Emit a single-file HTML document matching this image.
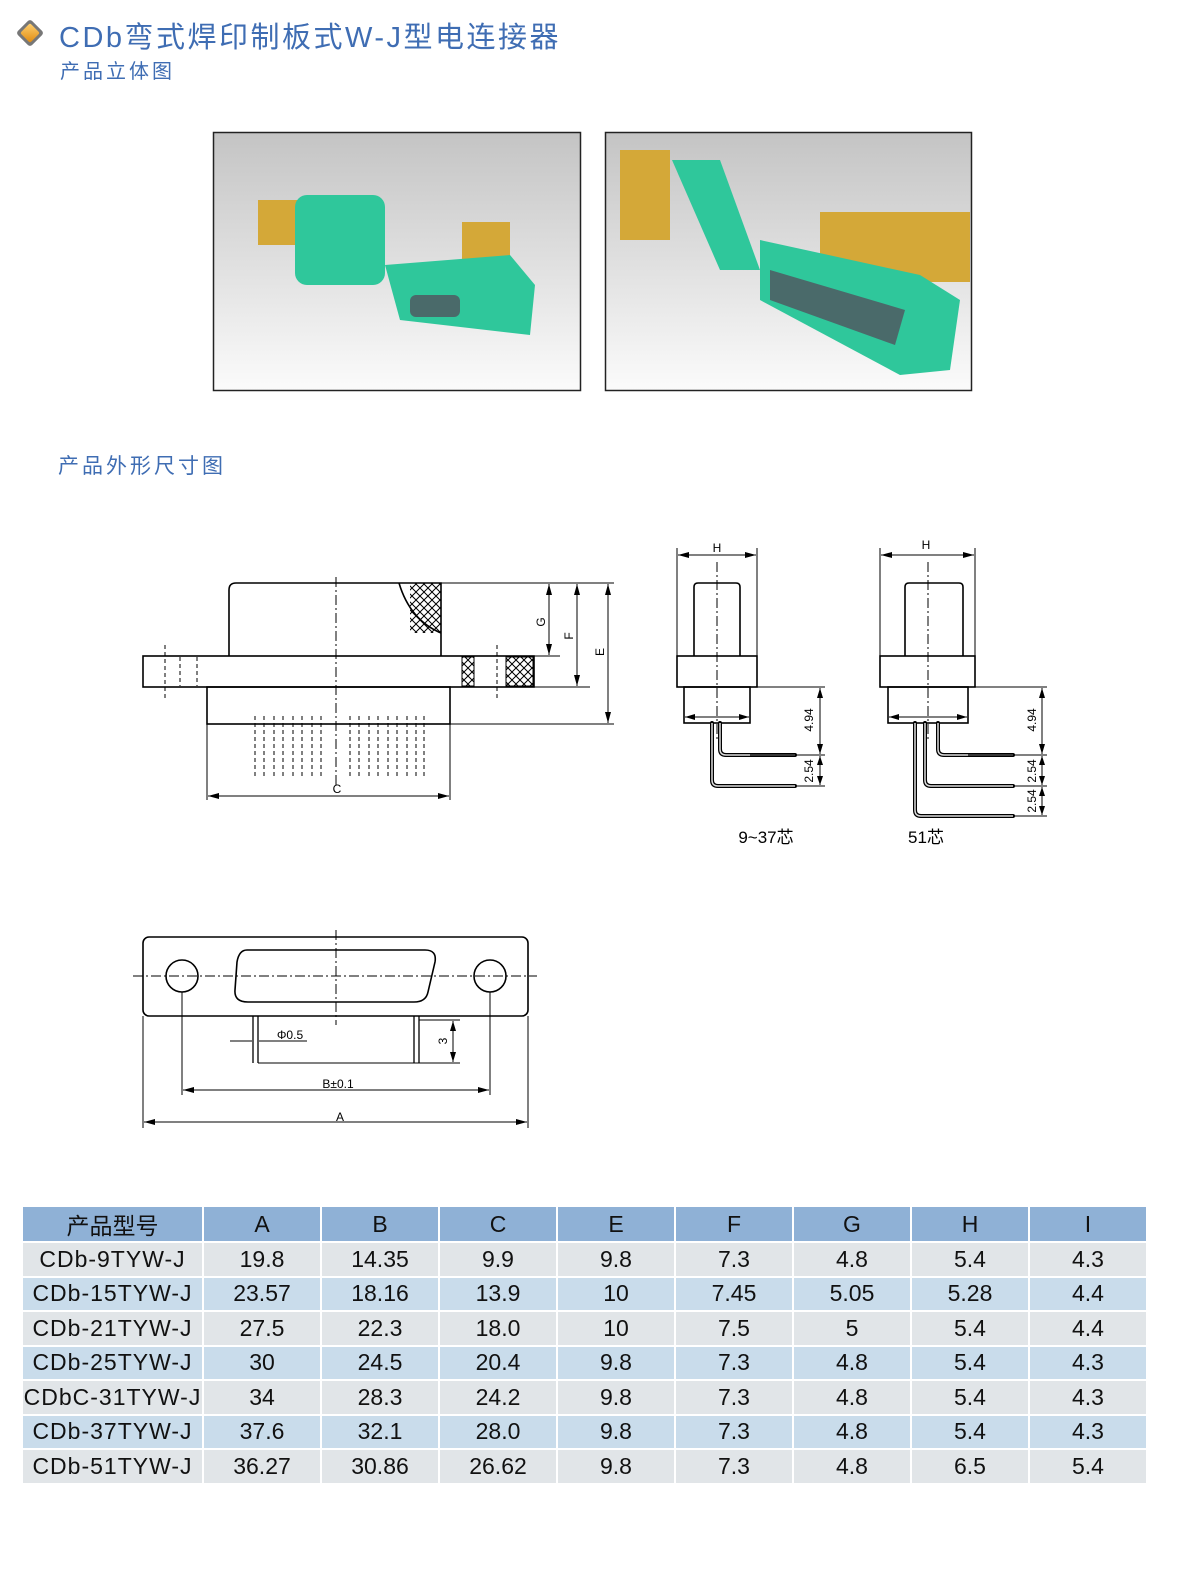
<!DOCTYPE html>
<html><head><meta charset="utf-8">
<style>
html,body{margin:0;padding:0;background:#fff;width:1200px;height:1586px;overflow:hidden;}
body{position:relative;font-family:"Liberation Sans","Noto Sans CJK SC",sans-serif;}
.t{position:absolute;color:#3f6db3;white-space:nowrap;}
table{position:absolute;left:21px;top:1205px;border-collapse:separate;border-spacing:2px 2px;table-layout:fixed;width:1127px;}
td{height:32.5px;padding:0;text-align:center;font-size:23px;color:#111;font-family:"Liberation Sans",sans-serif;overflow:hidden;white-space:nowrap;}
tr.h td{background:#8fb1d6;height:33px;}
tr.g td{background:#e1e5e8;}
tr.b td{background:#c9dceb;}
td.m{font-family:"Liberation Sans Narrow","Liberation Sans",sans-serif;letter-spacing:1px;}
</style></head><body>
<svg width="1200" height="1586" style="position:absolute;left:0;top:0;overflow:hidden">
<defs>
<linearGradient id="bg" x1="0" y1="0" x2="0" y2="1"><stop offset="0" stop-color="#c4c4c4"/><stop offset="1" stop-color="#fbfbfb"/></linearGradient>
<linearGradient id="ic" x1="0" y1="0" x2="1" y2="1"><stop offset="0" stop-color="#ffd070"/><stop offset="1" stop-color="#e08a10"/></linearGradient>
<pattern id="xh" width="8" height="8" patternUnits="userSpaceOnUse"><path d="M0 0L8 8M8 0L0 8" stroke="#000" stroke-width="1"/></pattern>
</defs>
<rect x="20" y="23" width="20" height="20" transform="rotate(45 30 33)" fill="#777" rx="3"/>
<rect x="23" y="26" width="14" height="14" transform="rotate(45 30 33)" fill="url(#ic)" rx="2"/>
<rect x="213.5" y="132.5" width="367" height="258" fill="url(#bg)" stroke="#222" stroke-width="1.5"/>
<rect x="605.5" y="132.5" width="366" height="258" fill="url(#bg)" stroke="#222" stroke-width="1.5"/>
<g fill="#d4a838"><rect x="258" y="200" width="40" height="45"/><rect x="462" y="222" width="48" height="40"/><rect x="620" y="150" width="50" height="90"/><rect x="820" y="212" width="150" height="70"/></g>
<g fill="#2fc79b"><rect x="295" y="195" width="90" height="90" rx="12"/><path d="M385 265L510 255L535 285L530 335L400 320Z"/><path d="M672 160L720 160L760 270L720 270Z"/><path d="M760 240L920 275L960 300L950 370L900 375L760 300Z"/></g>
<g fill="#4a6a6a"><rect x="410" y="295" width="50" height="22" rx="6"/><path d="M770 270L905 310L895 345L770 300Z"/></g>
<g stroke="#000" fill="none" stroke-width="1.6">
<path d="M229 656V590Q229 583 236 583H441V656"/>
<rect x="143" y="656" width="391" height="31"/>
<rect x="207" y="687" width="243" height="37"/>
<path d="M399 583Q410 620 441 633" />
<rect x="410" y="583" width="31" height="50" fill="url(#xh)" stroke="none"/>
<rect x="462" y="657" width="12" height="29" fill="url(#xh)" stroke-width="1"/>
<rect x="506" y="657" width="27" height="29" fill="url(#xh)" stroke-width="1"/>
</g>
<g stroke="#000" stroke-width="1" fill="none">
<path d="M336 577V785" stroke-dasharray="10 3 2 3"/>
<path d="M165 645V700M180 657V686M197 657V686M497 645V700" stroke-dasharray="4 3"/>
<path d="M255 716V776M264 716V776M274 716V776M283 716V776M293 716V776M302 716V776M312 716V776M321 716V776M350 716V776M359 716V776M369 716V776M378 716V776M388 716V776M397 716V776M407 716V776M416 716V776M424 716V776" stroke-dasharray="4 3"/>
<path d="M441 583H614M441 656H560M534 687H590M450 724H614M207 724V800M450 724V800"/>
<path d="M549 584V655M577 584V686M608 584V723M208 796H449"/>
</g>
<g font-size="12" font-family="Liberation Sans,sans-serif" fill="#000">
<text x="337" y="793" text-anchor="middle">C</text>
<text transform="translate(545 622) rotate(-90)" text-anchor="middle">G</text>
<text transform="translate(573 636) rotate(-90)" text-anchor="middle">F</text>
<text transform="translate(604 652) rotate(-90)" text-anchor="middle">E</text>
<text x="717" y="552" text-anchor="middle">H</text>
<text x="926" y="549" text-anchor="middle">H</text>
<text transform="translate(813 720) rotate(-90)" text-anchor="middle">4.94</text>
<text transform="translate(813 771) rotate(-90)" text-anchor="middle">2.54</text>
<text transform="translate(1036 720) rotate(-90)" text-anchor="middle">4.94</text>
<text transform="translate(1036 771) rotate(-90)" text-anchor="middle">2.54</text>
<text transform="translate(1036 801) rotate(-90)" text-anchor="middle">2.54</text>
<text x="290" y="1039" text-anchor="middle">Φ0.5</text>
<text transform="translate(447 1041) rotate(-90)" text-anchor="middle">3</text>
<text x="338" y="1088" text-anchor="middle">B±0.1</text>
<text x="340" y="1121" text-anchor="middle">A</text>
</g>
<g stroke="#000" fill="none" stroke-width="1.6">
<path d="M694 656V587Q694 583 698 583H736Q740 583 740 587V656"/>
<rect x="677" y="656" width="80" height="31"/><rect x="684" y="687" width="66" height="36"/>
<path d="M712 723V780Q712 786 718 786H795M720 723V749Q720 755 726 755H795" stroke-width="4" stroke-linecap="round"/>
<path d="M712 723V780Q712 786 718 786H795M720 723V749Q720 755 726 755H795" stroke="#ddd" stroke-width="1.5"/>
<path d="M905 656V587Q905 583 909 583H959Q963 583 963 587V656"/>
<rect x="880" y="656" width="95" height="31"/><rect x="888" y="687" width="80" height="36"/>
<path d="M915 723V810Q915 816 921 816H1013M925 723V780Q925 786 931 786H1013M938 723V749Q938 755 944 755H1013" stroke-width="4" stroke-linecap="round"/>
<path d="M915 723V810Q915 816 921 816H1013M925 723V780Q925 786 931 786H1013M938 723V749Q938 755 944 755H1013" stroke="#ddd" stroke-width="1.5"/>
<rect x="143" y="937" width="385" height="79" rx="6"/>
<path d="M247 950H425Q437 950 435 962L428 992Q426 1002 414 1002H248Q234 1002 235 990L237 962Q239 950 247 950Z"/>
<circle cx="182" cy="976" r="16"/><circle cx="490" cy="976" r="16"/>
<path d="M253 1016V1063M258 1016V1063M414 1016V1063M419 1016V1063" stroke-width="1.3"/>
</g>
<g stroke="#000" stroke-width="1" fill="none">
<path d="M717 562V740M928 562V740M133 976H537M336 930V1025" stroke-dasharray="10 3 2 3"/>
<path d="M677 548V656M757 548V656M880 548V656M975 548V656M757 687H825M750 755H825M797 786H825M975 687H1047M968 755H1047M1013 786H1047M1013 816H1047"/>
<path d="M678 555H756M881 555H974M685 717H749M889 717H967M820 688V754M820 756V785M1042 688V754M1042 756V785M1042 787V815"/>
<path d="M182 992V1095M490 992V1095M143 1016V1128M528 1016V1128M258 1063H460M419 1020H460M230 1041H252M259 1041H307"/>
<path d="M183 1090H489M144 1122H527M453 1021V1062"/>
</g>
<g fill="#000">
<!-- horizontal arrows -->
<path d="M208 796l11-3v6zM449 796l-11-3v6z"/>
<path d="M678 555l11-3v6zM756 555l-11-3v6z"/>
<path d="M881 555l11-3v6zM974 555l-11-3v6z"/>
<path d="M685 717l10-3v6zM749 717l-10-3v6z"/>
<path d="M889 717l10-3v6zM967 717l-10-3v6z"/>
<path d="M183 1090l11-3v6zM489 1090l-11-3v6z"/>
<path d="M144 1122l11-3v6zM527 1122l-11-3v6z"/>
<!-- vertical arrows -->
<path d="M549 584l-3 11h6zM549 655l-3-11h6z"/>
<path d="M577 584l-3 11h6zM577 686l-3-11h6z"/>
<path d="M608 584l-3 11h6zM608 723l-3-11h6z"/>
<path d="M820 688l-3 10h6zM820 754l-3-10h6zM820 756l-3 9h6zM820 785l-3-9h6z"/>
<path d="M1042 688l-3 10h6zM1042 754l-3-10h6zM1042 756l-3 9h6zM1042 785l-3-9h6zM1042 787l-3 9h6zM1042 815l-3-9h6z"/>
<path d="M453 1021l-3 10h6zM453 1062l-3-10h6z"/>
</g>
<text x="766" y="843" font-size="17" text-anchor="middle" font-family="Liberation Sans,Noto Sans CJK SC,sans-serif">9~37芯</text>
<text x="926" y="843" font-size="17" text-anchor="middle" font-family="Liberation Sans,Noto Sans CJK SC,sans-serif">51芯</text>
</svg>
<div class="t" style="left:59px;top:14px;font-size:29px;letter-spacing:2.5px;font-family:'Liberation Sans Narrow','Liberation Sans','Noto Sans CJK SC',sans-serif;">CDb弯式焊印制板式W-J型电连接器</div>
<div class="t" style="left:60px;top:55px;font-size:20px;letter-spacing:3px;">产品立体图</div>
<div class="t" style="left:58px;top:450px;font-size:21px;letter-spacing:3px;">产品外形尺寸图</div>
<table>
<colgroup><col style="width:179px"><col style="width:116px"><col style="width:116px"><col style="width:116px"><col style="width:116px"><col style="width:116px"><col style="width:116px"><col style="width:116px"><col style="width:116px"></colgroup>
<tr class="h"><td>产品型号</td><td>A</td><td>B</td><td>C</td><td>E</td><td>F</td><td>G</td><td>H</td><td>I</td></tr>
<tr class="g"><td class="m">CDb-9TYW-J</td><td>19.8</td><td>14.35</td><td>9.9</td><td>9.8</td><td>7.3</td><td>4.8</td><td>5.4</td><td>4.3</td></tr>
<tr class="b"><td class="m">CDb-15TYW-J</td><td>23.57</td><td>18.16</td><td>13.9</td><td>10</td><td>7.45</td><td>5.05</td><td>5.28</td><td>4.4</td></tr>
<tr class="g"><td class="m">CDb-21TYW-J</td><td>27.5</td><td>22.3</td><td>18.0</td><td>10</td><td>7.5</td><td>5</td><td>5.4</td><td>4.4</td></tr>
<tr class="b"><td class="m">CDb-25TYW-J</td><td>30</td><td>24.5</td><td>20.4</td><td>9.8</td><td>7.3</td><td>4.8</td><td>5.4</td><td>4.3</td></tr>
<tr class="g"><td class="m">CDbC-31TYW-J</td><td>34</td><td>28.3</td><td>24.2</td><td>9.8</td><td>7.3</td><td>4.8</td><td>5.4</td><td>4.3</td></tr>
<tr class="b"><td class="m">CDb-37TYW-J</td><td>37.6</td><td>32.1</td><td>28.0</td><td>9.8</td><td>7.3</td><td>4.8</td><td>5.4</td><td>4.3</td></tr>
<tr class="g"><td class="m">CDb-51TYW-J</td><td>36.27</td><td>30.86</td><td>26.62</td><td>9.8</td><td>7.3</td><td>4.8</td><td>6.5</td><td>5.4</td></tr>
</table>
</body></html>
